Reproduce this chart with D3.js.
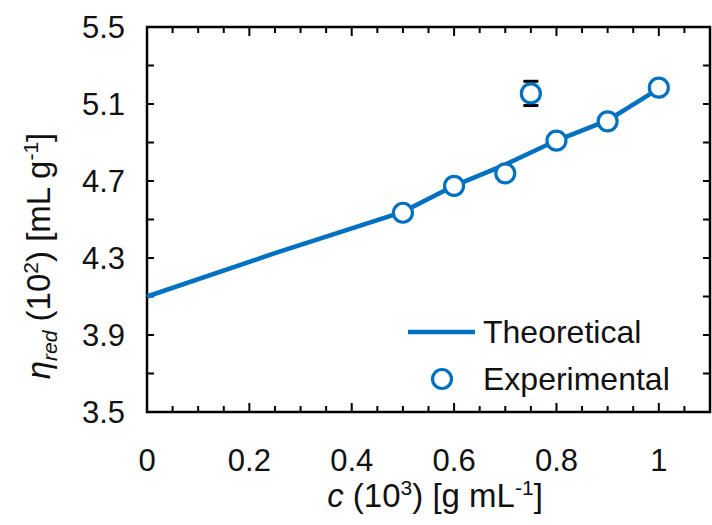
<!DOCTYPE html>
<html lang="en">
<head>
<meta charset="UTF-8">
<title>Reduced viscosity vs concentration</title>
<script src="https://cdn.jsdelivr.net/npm/d3@7"></script>
<style>
    body {margin: 0; background: #fff;}
    svg {display: block; font-family: "Liberation Sans", Arial, sans-serif;}
</style>
</head>
<body>
<svg id="chart"></svg>
<script>
    // DATA
    const theoryC = [0, 0.25, 0.5, 0.6, 0.7, 0.8, 0.9, 1.0];
    const theoryEta = [4.10, 4.325, 4.54, 4.675, 4.785, 4.91, 5.015, 5.18];

    const expC = [0.5, 0.6, 0.7, 0.75, 0.8, 0.9, 1.0];
    const expEta = [4.535, 4.675, 4.74, 5.155, 4.91, 5.01, 5.185];
    const expErr = [0, 0, 0, 0.063, 0, 0, 0];

    const xTickLabels = [0, 0.2, 0.4, 0.6, 0.8, 1];
    const yTickLabels = [3.5, 3.9, 4.3, 4.7, 5.1, 5.5];
    const legendLabels = ["Theoretical", "Experimental"];

    const blue = "#0070c0";

    // Dimensions
    const dim = {width: 712, height: 525};
    const m = {left: 147, top: 27, right: 2, bottom: 113};
    const cht = {width: dim.width - m.left - m.right, height: dim.height - m.top - m.bottom};

    const svg = d3.select("#chart").attr("width", dim.width).attr("height", dim.height);
    const g = svg.append("g").attr("transform", `translate(${m.left},${m.top})`);

    const x = d3.scaleLinear().domain([0, 1.1]).range([0, cht.width]);
    const y = d3.scaleLinear().domain([3.5, 5.5]).range([cht.height, 0]);

    // tick positions
    const xMinor = d3.range(0, 1.1001, 0.05).map(d => +d.toFixed(2));
    const xMajor = xMinor.filter(d => Math.abs(d * 5 - Math.round(d * 5)) < 1e-6);
    const yMinor = d3.range(3.5, 5.5001, 0.2).map(d => +d.toFixed(1));

    // inward ticks on all sides
    const tickG = g.append("g").attr("stroke", "#000").attr("stroke-width", 2);
    tickG.selectAll(".xb").data(xMinor).join("line")
         .attr("x1", d => x(d)).attr("x2", d => x(d))
         .attr("y1", cht.height).attr("y2", d => cht.height - (xMajor.includes(d) ? 9 : 6));
    tickG.selectAll(".xt").data(xMinor).join("line")
         .attr("x1", d => x(d)).attr("x2", d => x(d))
         .attr("y1", 0).attr("y2", d => (xMajor.includes(d) ? 9 : 6));
    tickG.selectAll(".yl").data(yMinor).join("line")
         .attr("x1", 0).attr("x2", 7)
         .attr("y1", d => y(d)).attr("y2", d => y(d));
    tickG.selectAll(".yr").data(yMinor).join("line")
         .attr("x1", cht.width).attr("x2", cht.width - 7)
         .attr("y1", d => y(d)).attr("y2", d => y(d));

    // frame
    g.append("rect").attr("width", cht.width).attr("height", cht.height)
     .attr("fill", "none").attr("stroke", "#000").attr("stroke-width", 2.5);

    // tick labels
    g.selectAll(".xlab").data(xTickLabels).join("text")
     .attr("x", d => x(d)).attr("y", cht.height + 59)
     .attr("text-anchor", "middle").attr("font-size", 31).attr("fill", "#111")
     .text(d => d);
    g.selectAll(".ylab").data(yTickLabels).join("text")
     .attr("x", -22).attr("y", d => y(d)).attr("dy", "0.36em")
     .attr("text-anchor", "end").attr("font-size", 31).attr("fill", "#111")
     .text(d => d3.format(".1f")(d));

    // axis titles
    const xt = svg.append("text").attr("x", 435).attr("y", 507)
                  .attr("text-anchor", "middle").attr("font-size", 33).attr("fill", "#111");
    xt.append("tspan").attr("font-style", "italic").text("c");
    xt.append("tspan").text(" (10");
    xt.append("tspan").attr("font-size", 21).attr("dy", -12).text("3");
    xt.append("tspan").attr("dy", 12).text(") [g mL");
    xt.append("tspan").attr("font-size", 21).attr("dy", -12).text("-1");
    xt.append("tspan").attr("dy", 12).text("]");

    const yt = svg.append("text").attr("transform", "translate(50,256) rotate(-90)")
                  .attr("text-anchor", "middle").attr("font-size", 33).attr("fill", "#111");
    yt.append("tspan").attr("font-style", "italic").text("η");
    yt.append("tspan").attr("font-style", "italic").attr("font-size", 21).attr("dy", 7).text("red");
    yt.append("tspan").attr("dy", -7).text(" (10");
    yt.append("tspan").attr("font-size", 21).attr("dy", -12).text("2");
    yt.append("tspan").attr("dy", 12).text(") [mL g");
    yt.append("tspan").attr("font-size", 21).attr("dy", -12).text("-1");
    yt.append("tspan").attr("dy", 12).text("]");

    // theoretical line
    const line = d3.line().x((d, i) => x(theoryC[i])).y(d => y(d));
    g.append("path").datum(theoryEta)
     .attr("d", line).attr("fill", "none")
     .attr("stroke", blue).attr("stroke-width", 4.5);

    // error bars
    const errIdx = d3.range(expC.length).filter(i => expErr[i] > 0);
    const eb = g.append("g").attr("stroke", "#000").attr("stroke-width", 3);
    eb.selectAll(".stem").data(errIdx).join("line")
      .attr("x1", i => x(expC[i])).attr("x2", i => x(expC[i]))
      .attr("y1", i => y(expEta[i] - expErr[i])).attr("y2", i => y(expEta[i] + expErr[i]));
    [-1, 1].forEach(s => {
        eb.selectAll(null).data(errIdx).join("line")
          .attr("x1", i => x(expC[i]) - 7.5).attr("x2", i => x(expC[i]) + 7.5)
          .attr("y1", i => y(expEta[i] + s * expErr[i])).attr("y2", i => y(expEta[i] + s * expErr[i]));
    });

    // experimental points
    g.selectAll(".pt").data(expEta).join("circle")
     .attr("cx", (d, i) => x(expC[i])).attr("cy", d => y(d)).attr("r", 9.5)
     .attr("fill", "#fff").attr("stroke", blue).attr("stroke-width", 3.2);

    // legend
    const lg = svg.append("g");
    lg.append("line").attr("x1", 408).attr("x2", 475).attr("y1", 332).attr("y2", 332)
      .attr("stroke", blue).attr("stroke-width", 4.5);
    lg.append("circle").attr("cx", 442).attr("cy", 379).attr("r", 9.5)
      .attr("fill", "#fff").attr("stroke", blue).attr("stroke-width", 3.2);
    lg.selectAll(".lt").data(legendLabels).join("text")
      .attr("x", 483).attr("y", (d, i) => 343 + i * 47)
      .attr("font-size", 32).attr("fill", "#111").text(d => d);
</script>
</body>
</html>
